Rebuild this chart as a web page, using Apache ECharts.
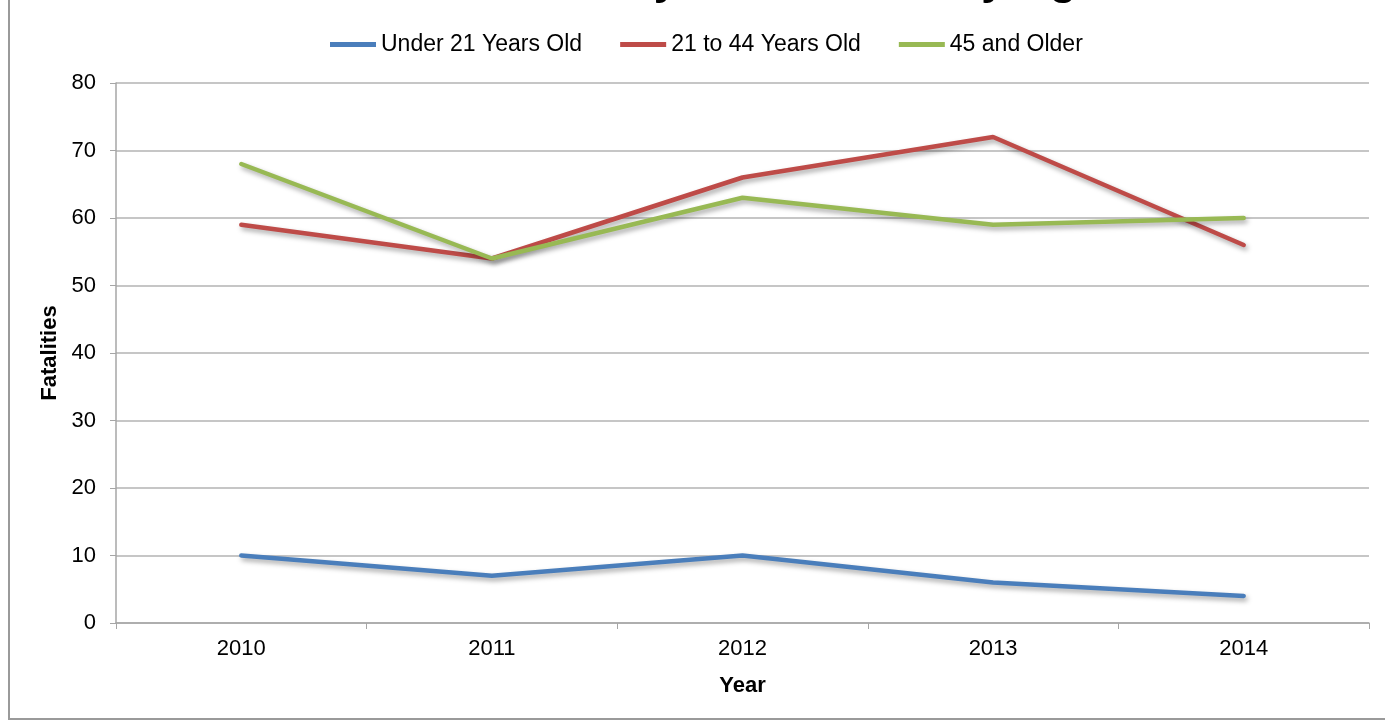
<!DOCTYPE html>
<html>
<head>
<meta charset="utf-8">
<script src="https://cdn.jsdelivr.net/npm/echarts@6/dist/echarts.min.js"></script>
<style>html,body{margin:0;padding:0;background:#fff}#c{width:1385px;height:721px}</style>
</head>
<body>
<div id="c"></div>
<script>
const titleText = 'Motorcycle Fatalities by Age';
const years = ['2010', '2011', '2012', '2013', '2014'];
const under21 = [10, 7, 10, 6, 4];
const age21to44 = [59, 54, 66, 72, 56];
const age45plus = [68, 54, 63, 59, 60];
const seriesNames = ['Under 21 Years Old', '21 to 44 Years Old', '45 and Older'];
const colors = ['#4A7EBB', '#BE4B48', '#98B954'];

const font = 'Liberation Sans, Arial, sans-serif';
const chart = echarts.init(document.getElementById('c'));
function mk(name, data, color) {
  return {
    name: name, type: 'line', data: data, symbol: 'none', smooth: false,
    lineStyle: { color: color, width: 4.5, shadowColor: 'rgba(0,0,0,0.35)', shadowBlur: 5, shadowOffsetX: 2, shadowOffsetY: 3, cap: 'round' },
    itemStyle: { color: color }
  };
}
chart.setOption({
  animation: false,
  color: colors,
  title: { text: titleText, left: 502, top: -45, textStyle: { fontFamily: font, fontSize: 44, fontWeight: 'bold', color: '#000' } },
  graphic: [{ type: 'rect', shape: { x: 9, y: -5, width: 1400, height: 724 }, style: { fill: 'none', stroke: '#9a9a9a', lineWidth: 2 }, silent: true, z: -1 }],
  legend: {
    top: 28, left: 325, itemGap: 38, itemWidth: 46, itemHeight: 5, icon: 'rect',
    textStyle: { fontFamily: font, fontSize: 23, color: '#000', padding: [0, 0, 0, 0] },
    data: seriesNames
  },
  grid: { left: 116, right: 16, top: 83, bottom: 98, containLabel: false },
  xAxis: {
    type: 'category', data: years, boundaryGap: true,
    name: 'Year', nameLocation: 'middle', nameGap: 52,
    nameTextStyle: { fontFamily: font, fontSize: 22, fontWeight: 'bold', color: '#000' },
    axisLine: { lineStyle: { color: '#a6a6a6', width: 1.5 } },
    axisTick: { show: true, length: 6, lineStyle: { color: '#a6a6a6' } },
    axisLabel: { fontFamily: font, fontSize: 22, color: '#000', margin: 15 },
    splitLine: { show: false }
  },
  yAxis: {
    type: 'value', min: 0, max: 80, interval: 10,
    name: 'Fatalities', nameLocation: 'middle', nameGap: 52, nameRotate: 90,
    nameTextStyle: { fontFamily: font, fontSize: 22, fontWeight: 'bold', color: '#000' },
    axisLine: { show: true, lineStyle: { color: '#a6a6a6', width: 1.5 } },
    axisTick: { show: true, length: 6, lineStyle: { color: '#a6a6a6' } },
    axisLabel: { fontFamily: font, fontSize: 22, color: '#000', margin: 20 },
    splitLine: { show: true, lineStyle: { color: '#b3b3b3', width: 1.5 } }
  },
  series: [
    mk(seriesNames[0], under21, colors[0]),
    mk(seriesNames[1], age21to44, colors[1]),
    mk(seriesNames[2], age45plus, colors[2])
  ]
});
</script>
</body>
</html>
